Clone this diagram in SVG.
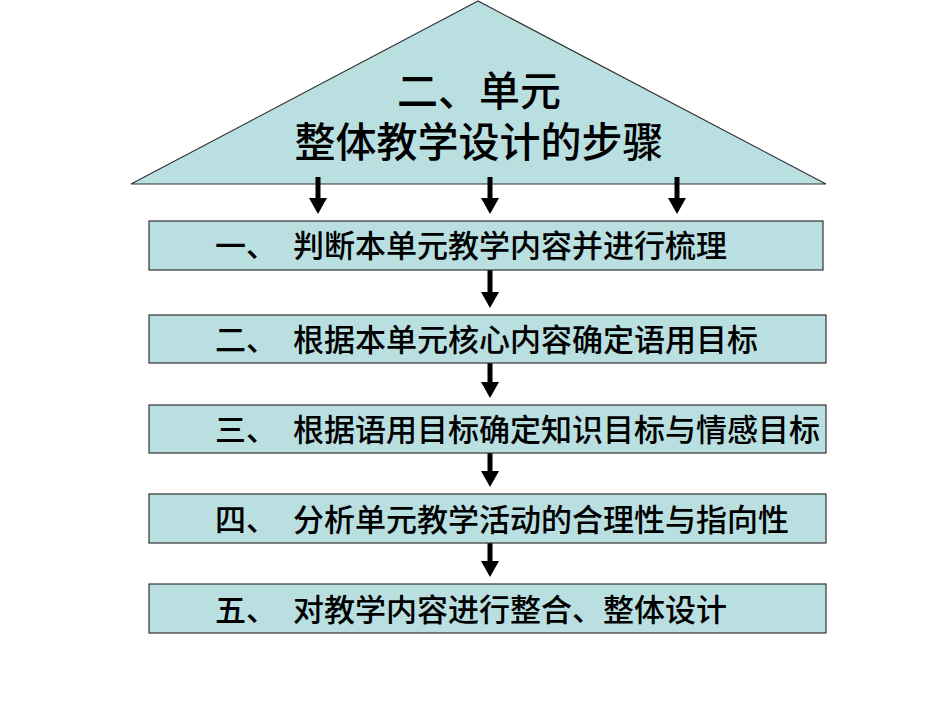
<svg xmlns="http://www.w3.org/2000/svg" width="950" height="713" viewBox="0 0 950 713">
<style>
.shape{fill:#b9dfe1;stroke:#333;stroke-width:1.2}
.t{font-family:"Liberation Sans","Noto Sans CJK SC",sans-serif;font-size:31px;font-weight:500;fill:#000}
.h{font-family:"Liberation Sans","Noto Sans CJK SC",sans-serif;font-size:41px;font-weight:500;fill:#000;text-anchor:middle}
.ar{stroke:#000;stroke-width:5;fill:none;marker-end:url(#m)}
</style>
<defs><marker id="m" markerWidth="4" markerHeight="4" refX="2" refY="2" orient="auto" markerUnits="strokeWidth"><path d="M0,0.2 L3.2,2 L0,3.8 z" fill="#000"/></marker></defs>
<rect width="950" height="713" fill="#fff"/>
<g id="top"><polygon class="shape" points="478,1 131,184 826,184"/>
<text class="h" x="479" y="106">二、单元</text><text class="h" x="479" y="157">整体教学设计的步骤</text></g>
<g id="connectors">
<line class="ar" x1="318" y1="177" x2="318" y2="208"/>
<line class="ar" x1="490" y1="177" x2="490" y2="208"/>
<line class="ar" x1="677" y1="177" x2="677" y2="208"/>
<line class="ar" x1="490" y1="270" x2="490" y2="302"/>
<line class="ar" x1="490" y1="363" x2="490" y2="392"/>
<line class="ar" x1="490" y1="453" x2="490" y2="481"/>
<line class="ar" x1="490" y1="543" x2="490" y2="571"/>
</g>
<g id="s1"><rect class="shape" x="149" y="221" width="674" height="49"/><text class="t" y="257"><tspan x="215">一、</tspan><tspan x="293">判断本单元教学内容并进行梳理</tspan></text></g>
<g id="s2"><rect class="shape" x="149" y="315" width="677" height="48"/><text class="t" y="351"><tspan x="215">二、</tspan><tspan x="293">根据本单元核心内容确定语用目标</tspan></text></g>
<g id="s3"><rect class="shape" x="149" y="405" width="677" height="48"/><text class="t" y="441"><tspan x="215">三、</tspan><tspan x="293">根据语用目标确定知识目标与情感目标</tspan></text></g>
<g id="s4"><rect class="shape" x="149" y="494" width="677" height="49"/><text class="t" y="531"><tspan x="215">四、</tspan><tspan x="293">分析单元教学活动的合理性与指向性</tspan></text></g>
<g id="s5"><rect class="shape" x="149" y="584" width="677" height="49"/><text class="t" y="621"><tspan x="215">五、</tspan><tspan x="293">对教学内容进行整合、整体设计</tspan></text></g>
</svg>
